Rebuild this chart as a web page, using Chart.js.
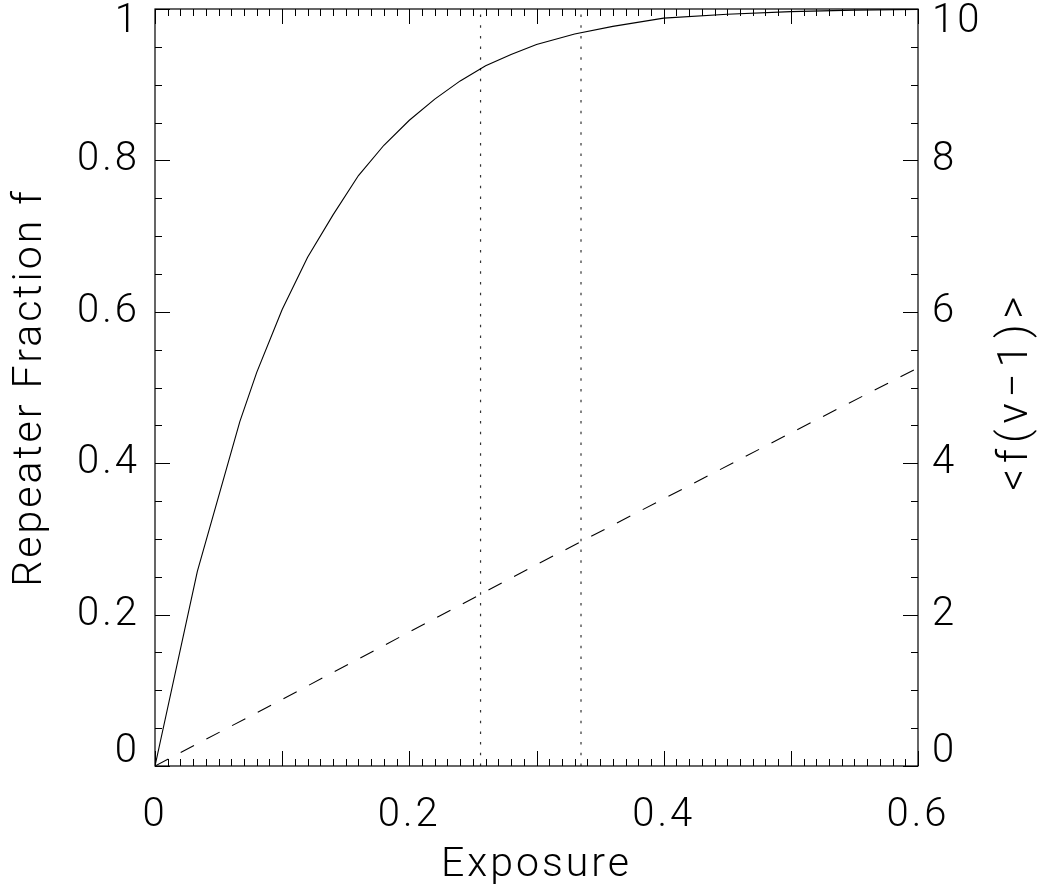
<!DOCTYPE html>
<html>
<head>
<meta charset="utf-8">
<script src="https://cdn.jsdelivr.net/npm/chart.js@4.4.1/dist/chart.umd.min.js"></script>
<style>
  html, body { margin: 0; padding: 0; background: #fff; }
  #wrap { width: 1037px; height: 890px; }
</style>
</head>
<body>
<div id="wrap"><canvas id="myChart" width="1037" height="890"></canvas></div>
<script>
// values
var exposure = [0, 0.0333, 0.0667, 0.08, 0.1, 0.12, 0.14, 0.16, 0.18, 0.2, 0.22, 0.24, 0.26, 0.28, 0.3, 0.33, 0.36, 0.4, 0.45, 0.5, 0.55, 0.6];
var repeaterFraction = [0, 0.257, 0.455, 0.52, 0.603, 0.672, 0.728, 0.78, 0.82, 0.853, 0.881, 0.905, 0.925, 0.94, 0.953, 0.967, 0.977, 0.988, 0.993, 0.9965, 0.9985, 0.9995];
var exposureB = [0, 0.1, 0.2, 0.3, 0.4, 0.5, 0.6];
var meanExtra = [0, 0.88, 1.77, 2.66, 3.53, 4.4, 5.26];
var markers = [0.256, 0.335];
var xTickLabels = [0, 0.2, 0.4, 0.6];
var yTickLabels = [0, 0.2, 0.4, 0.6, 0.8, 1];
var y2TickLabels = [0, 2, 4, 6, 8, 10];

var FAMILY = 'Roboto, "DejaVu Sans", sans-serif';

function pts(xs, ys) {
    var out = [];
    for (var i = 0; i < xs.length; i++) out.push({x: xs[i], y: ys[i]});
    return out;
}

var datasets = [
    { data: pts(exposure, repeaterFraction), yAxisID: 'y', borderColor: '#000', borderWidth: 1.1, pointRadius: 0, showLine: true, tension: 0 },
    { data: pts(exposureB, meanExtra), yAxisID: 'y2', borderColor: '#000', borderWidth: 1.1, borderDash: [15, 14], pointRadius: 0, showLine: true, tension: 0 }
];
markers.forEach(function (m) {
    datasets.push({ data: [{x: m, y: 0}, {x: m, y: 1}], yAxisID: 'y', borderColor: '#333', borderWidth: 1.2, borderDash: [2.5, 8.2], pointRadius: 0, showLine: true });
});

function labelIn(list) {
    return function (v) {
        for (var i = 0; i < list.length; i++) {
            if (Math.abs(list[i] - v) < 1e-6) return String(list[i]);
        }
        return '';
    };
}

// like IDL, the end labels of the side axes are pulled inside the frame
function sideLabels(list) {
    var base = labelIn(list);
    return function (v, i, ticks) {
        var s = base(v);
        if (i === ticks.length - 1) return ['', s];
        if (i === 0) return [s, ''];
        return s;
    };
}

var tickFont = { family: FAMILY, size: 40, weight: '300' };
var titleFont = { family: FAMILY, size: 41, weight: '300' };

function sideFont(c) {
    var sc = c.scale;
    if (c.tick && Math.abs(c.tick.value - sc.max) < 1e-9) return { family: FAMILY, size: 40, weight: '300', lineHeight: 0.65 };
    if (c.tick && Math.abs(c.tick.value - sc.min) < 1e-9) return { family: FAMILY, size: 40, weight: '300', lineHeight: 0.7 };
    return tickFont;
}

// wide letter spacing like the original plotting font
var spacingPlugin = {
    id: 'spacing',
    beforeLayout: function (chart) { chart.ctx.letterSpacing = '3px'; },
    beforeDraw: function (chart) { chart.ctx.letterSpacing = '3px'; }
};

// frame, inward ticks and the right-hand title
var framePlugin = {
    id: 'frame',
    afterDraw: function (chart) {
        var ctx = chart.ctx, a = chart.chartArea;
        var xs = chart.scales.x, ys = chart.scales.y;
        ctx.save();
        ctx.strokeStyle = '#000';
        ctx.lineWidth = 1.2;
        ctx.strokeRect(a.left, a.top, a.right - a.left, a.bottom - a.top);
        ctx.lineWidth = 1;
        ctx.beginPath();
        for (var i = 0; i <= 60; i++) {
            var px = Math.round(xs.getPixelForValue(i / 100)) + 0.5;
            var len = (i % 10 === 0) ? 15 : 7;
            ctx.moveTo(px, a.bottom); ctx.lineTo(px, a.bottom - len);
            ctx.moveTo(px, a.top); ctx.lineTo(px, a.top + len);
        }
        for (var j = 0; j <= 20; j++) {
            var py = Math.round(ys.getPixelForValue(j / 20)) + 0.5;
            var l2 = (j % 4 === 0) ? 15 : 7;
            ctx.moveTo(a.left, py); ctx.lineTo(a.left + l2, py);
            ctx.moveTo(a.right, py); ctx.lineTo(a.right - l2, py);
        }
        ctx.stroke();

        ctx.fillStyle = '#000';
        ctx.font = '300 42px ' + FAMILY;
        ctx.letterSpacing = '6px';
        ctx.textAlign = 'center';
        ctx.textBaseline = 'middle';
        ctx.translate(1016, (a.top + a.bottom) / 2 + 3);
        ctx.rotate(-Math.PI / 2);
        ctx.fillText('<f(\u03bd\u22121)>', 0, 0);
        ctx.restore();
    }
};

function noPad(s) { s.paddingTop = 0; s.paddingBottom = 0; s.paddingLeft = 0; s.paddingRight = 0; }

new Chart(document.getElementById('myChart'), {
    type: 'scatter',
    data: { datasets: datasets },
    options: {
        responsive: false,
        animation: false,
        devicePixelRatio: 1,
        layout: { padding: { top: 9, left: 0, right: 0, bottom: 0 } },
        plugins: { legend: { display: false }, tooltip: { enabled: false } },
        scales: {
            x: {
                type: 'linear', position: 'bottom', min: 0, max: 0.6,
                grid: { display: false, drawTicks: false },
                border: { display: false },
                ticks: { stepSize: 0.2, autoSkip: false, maxRotation: 0, padding: 26, color: '#000', font: tickFont, callback: labelIn(xTickLabels) },
                title: { display: true, text: 'Exposure', color: '#000', font: titleFont, padding: { top: 4, bottom: 0 } },
                afterFit: function (s) { s.height = 124; noPad(s); }
            },
            y: {
                type: 'linear', position: 'left', min: 0, max: 1,
                grid: { display: false, drawTicks: false },
                border: { display: false },
                ticks: { stepSize: 0.2, autoSkip: false, padding: 15, color: '#000', font: sideFont, callback: sideLabels(yTickLabels) },
                title: { display: true, text: 'Repeater Fraction f', color: '#000', font: titleFont, padding: { top: 6, bottom: 0 } },
                afterFit: function (s) { s.width = 155; noPad(s); }
            },
            y2: {
                type: 'linear', position: 'right', min: 0, max: 10,
                grid: { display: false, drawTicks: false },
                border: { display: false },
                ticks: { stepSize: 2, autoSkip: false, padding: 14, color: '#000', font: sideFont, callback: sideLabels(y2TickLabels) },
                afterFit: function (s) { s.width = 119; noPad(s); }
            }
        }
    },
    plugins: [spacingPlugin, framePlugin]
});
</script>
</body>
</html>
